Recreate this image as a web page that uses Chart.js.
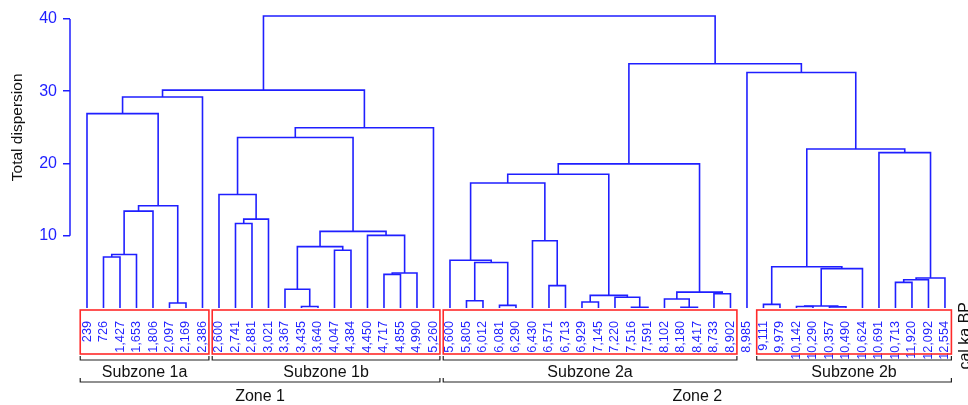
<!DOCTYPE html>
<html>
<head>
<meta charset="utf-8">
<script src="https://cdn.jsdelivr.net/npm/chart.js@4"></script>
<style>
  body { margin: 0; background: #fff; }
  #wrap { width: 968px; height: 405px; position: relative; }
</style>
</head>
<body>
<div id="wrap"><canvas id="dendro"></canvas></div>
<script>
// leaf labels (ages, cal yr BP), left to right
const leaves = ['239', '726', '1,427', '1,653', '1,806', '2,097', '2,169', '2,386',
  '2,600', '2,741', '2,881', '3,021', '3,367', '3,435', '3,640', '4,047', '4,384', '4,450', '4,717', '4,855', '4,990', '5,260',
  '5,600', '5,805', '6,012', '6,081', '6,290', '6,430', '6,571', '6,713', '6,929', '7,145', '7,220', '7,516', '7,591', '8,102', '8,180', '8,417', '8,733', '8,902',
  '8,985',
  '9,111', '9,979', '10,142', '10,290', '10,357', '10,490', '10,624', '10,691', '10,713', '11,920', '12,092', '12,554'];

// merges: [left, right, height]; number = leaf index, 'mK' = merge K
const merges = [
  [1, 2, 7.05], ['m0', 3, 7.4], ['m1', 4, 13.4], [5, 6, 0.7], ['m2', 'm3', 14.15],
  [0, 'm4', 26.9], ['m5', 7, 29.2],
  [9, 10, 11.7], ['m7', 11, 12.3], [8, 'm8', 15.7], [13, 14, 0.2], [12, 'm10', 2.6],
  [15, 16, 8.0], ['m11', 'm12', 8.5], [18, 19, 4.65], ['m14', 20, 4.85], [17, 'm15', 10.05],
  ['m13', 'm16', 10.6], ['m9', 'm17', 23.6], ['m18', 21, 24.95], ['m6', 'm19', 30.15],
  [23, 24, 1.0], [25, 26, 0.37], ['m21', 'm22', 6.3], [22, 'm23', 6.6], [28, 29, 3.1],
  [27, 'm25', 9.3], ['m24', 'm26', 17.3], [30, 31, 0.83], [33, 34, 0.1], [32, 'm29', 1.48],
  ['m28', 'm30', 1.75], ['m27', 'm31', 18.5], [36, 37, 0.1], [35, 'm33', 1.25], [38, 39, 1.98],
  ['m34', 'm35', 2.2], ['m32', 'm36', 19.95],
  [41, 42, 0.5], [43, 44, 0.2], [45, 46, 0.15], ['m39', 'm40', 0.28], ['m41', 47, 5.45],
  ['m38', 'm42', 5.7], [49, 50, 3.55], ['m44', 51, 3.9], ['m45', 52, 4.15], [48, 'm46', 21.5],
  ['m43', 'm47', 22.0], [40, 'm48', 32.6], ['m37', 'm49', 33.8], ['m20', 'm50', 40.4]
];

const yTicks = [10, 20, 30, 40];

const subzones = ['Subzone 1a', 'Subzone 1b', 'Subzone 2a', 'Subzone 2b'];
const subzoneFirst = [0, 8, 22, 41];
const subzoneLast = [7, 21, 39, 52];

const zones = ['Zone 1', 'Zone 2'];
const zoneFirst = [0, 22];
const zoneLast = [21, 52];

const BLUE = '#1f1fff';
const RED = '#ff2a2a';
const FONT = '"Liberation Sans", Arial, Helvetica, sans-serif';

// build the U-shaped links
const nodes = [];
function node(ref) {
  if (typeof ref === 'number') return { x: ref, y: 0 };
  return nodes[+ref.slice(1)];
}
const datasets = merges.map(([a, b, h]) => {
  const A = node(a), B = node(b);
  nodes.push({ x: (A.x + B.x) / 2, y: h });
  return {
    data: [{ x: A.x, y: A.y }, { x: A.x, y: h }, { x: B.x, y: h }, { x: B.x, y: B.y }],
    borderColor: BLUE,
    borderWidth: 1.6,
    pointRadius: 0,
    tension: 0,
    fill: false
  };
});

const deco = {
  id: 'deco',
  afterDraw(chart) {
    const { ctx, chartArea } = chart;
    const x = chart.scales.x, y = chart.scales.y;
    ctx.save();

    // y axis line (10 to 40 only)
    ctx.strokeStyle = BLUE;
    ctx.lineWidth = 1.5;
    ctx.beginPath();
    ctx.moveTo(chartArea.left, y.getPixelForValue(10));
    ctx.lineTo(chartArea.left, y.getPixelForValue(40));
    ctx.stroke();

    // y axis title
    ctx.fillStyle = '#111';
    ctx.font = '15.5px ' + FONT;
    ctx.textAlign = 'center';
    ctx.textBaseline = 'middle';
    ctx.save();
    ctx.translate(18, (y.getPixelForValue(10) + y.getPixelForValue(40)) / 2);
    ctx.rotate(-Math.PI / 2);
    ctx.fillText('Total dispersion', 0, 0);
    ctx.restore();

    // red boxes around leaf labels
    ctx.strokeStyle = RED;
    ctx.lineWidth = 1.6;
    subzones.forEach((s, i) => {
      const x0 = x.getPixelForValue(subzoneFirst[i] - 0.41);
      const x1 = x.getPixelForValue(subzoneLast[i] + 0.39);
      ctx.strokeRect(x0, 310, x1 - x0, 44);
    });

    // brackets
    function bracket(a, b, yy) {
      const x0 = x.getPixelForValue(a - 0.41);
      const x1 = x.getPixelForValue(b + 0.39);
      ctx.beginPath();
      ctx.moveTo(x0, yy - 4);
      ctx.lineTo(x0, yy);
      ctx.lineTo(x1, yy);
      ctx.lineTo(x1, yy - 4);
      ctx.stroke();
      return (x0 + x1) / 2;
    }
    ctx.strokeStyle = '#222';
    ctx.lineWidth = 1.2;
    ctx.fillStyle = '#111';
    ctx.font = '16px ' + FONT;
    ctx.textAlign = 'center';
    ctx.textBaseline = 'middle';
    subzones.forEach((s, i) => {
      const cx = bracket(subzoneFirst[i], subzoneLast[i], 360);
      ctx.fillText(s, cx, 373);
    });
    zones.forEach((z, i) => {
      const cx = bracket(zoneFirst[i], zoneLast[i], 382);
      ctx.fillText(z, cx, 397);
    });

    // unit label at right (partly outside the frame, as in the original)
    ctx.save();
    ctx.translate(966, 302);
    ctx.rotate(-Math.PI / 2);
    ctx.textAlign = 'right';
    ctx.fillText('cal ka BP', 0, 0);
    ctx.restore();

    ctx.restore();
  }
};

new Chart(document.getElementById('dendro'), {
  type: 'line',
  data: { datasets },
  plugins: [deco],
  options: {
    responsive: true,
    maintainAspectRatio: false,
    animation: false,
    layout: { padding: { top: 4.5, right: 10, left: 0, bottom: 0 } },
    plugins: { legend: { display: false }, tooltip: { enabled: false } },
    scales: {
      x: {
        type: 'linear',
        min: -1.03,
        max: 52.79,
        afterBuildTicks: s => { s.ticks = leaves.map((_, i) => ({ value: i })); },
        afterFit: s => { s.height = 97; s.paddingLeft = 0; s.paddingRight = 0; },
        ticks: {
          autoSkip: false,
          minRotation: 90,
          maxRotation: 90,
          padding: 5,
          color: BLUE,
          font: { size: 12.7, family: FONT },
          callback: v => leaves[v]
        },
        grid: { display: false },
        border: { display: false }
      },
      y: {
        min: 0,
        max: 42,
        afterBuildTicks: s => { s.ticks = yTicks.map(v => ({ value: v })); },
        afterFit: s => { s.width = 70; s.paddingTop = 0; s.paddingBottom = 0; },
        ticks: { color: BLUE, padding: 6, font: { size: 16, family: FONT } },
        grid: { drawOnChartArea: false, drawTicks: true, tickLength: 7, color: BLUE, lineWidth: 1.5 },
        border: { display: false }
      }
    }
  }
});
</script>
</body>
</html>
